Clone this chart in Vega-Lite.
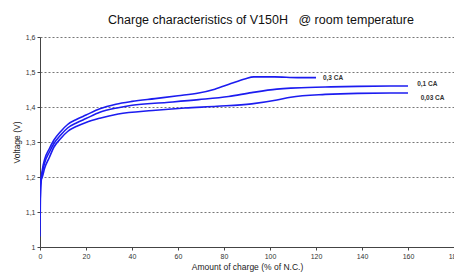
{
  "$schema": "https://vega.github.io/schema/vega-lite/v6.json",
  "width": 414,
  "height": 210,
  "autosize": {"type": "none"},
  "padding": {"left": 40, "top": 37, "right": 0, "bottom": 26},
  "background": "white",
  "title": {"text": "Charge characteristics of V150H \u00a0\u00a0@ room temperature", "fontSize": 12.5, "font": "Liberation Sans", "fontWeight": "normal", "color": "#111", "anchor": "middle", "dx": 14, "offset": 7},
  "config": {"view": {"stroke": null}},
  "datasets": {
    "curves": [
      {"s": "0,3 CA", "x": 0, "v": 1.03}, {"s": "0,3 CA", "x": 0.3, "v": 1.18}, {"s": "0,3 CA", "x": 1, "v": 1.22}, {"s": "0,3 CA", "x": 2, "v": 1.25}, {"s": "0,3 CA", "x": 4, "v": 1.28}, {"s": "0,3 CA", "x": 6, "v": 1.305}, {"s": "0,3 CA", "x": 9, "v": 1.33}, {"s": "0,3 CA", "x": 12, "v": 1.35}, {"s": "0,3 CA", "x": 16, "v": 1.365}, {"s": "0,3 CA", "x": 20, "v": 1.377}, {"s": "0,3 CA", "x": 26, "v": 1.395}, {"s": "0,3 CA", "x": 33, "v": 1.408}, {"s": "0,3 CA", "x": 40, "v": 1.416}, {"s": "0,3 CA", "x": 50, "v": 1.424}, {"s": "0,3 CA", "x": 60, "v": 1.432}, {"s": "0,3 CA", "x": 69, "v": 1.44}, {"s": "0,3 CA", "x": 76, "v": 1.451}, {"s": "0,3 CA", "x": 83, "v": 1.467}, {"s": "0,3 CA", "x": 89, "v": 1.48}, {"s": "0,3 CA", "x": 93, "v": 1.486}, {"s": "0,3 CA", "x": 102, "v": 1.486}, {"s": "0,3 CA", "x": 112, "v": 1.484}, {"s": "0,3 CA", "x": 120, "v": 1.484},
      {"s": "0,1 CA", "x": 0, "v": 1.12}, {"s": "0,1 CA", "x": 0.3, "v": 1.17}, {"s": "0,1 CA", "x": 1, "v": 1.21}, {"s": "0,1 CA", "x": 2, "v": 1.24}, {"s": "0,1 CA", "x": 4, "v": 1.27}, {"s": "0,1 CA", "x": 6, "v": 1.295}, {"s": "0,1 CA", "x": 9, "v": 1.32}, {"s": "0,1 CA", "x": 12, "v": 1.34}, {"s": "0,1 CA", "x": 16, "v": 1.355}, {"s": "0,1 CA", "x": 20, "v": 1.367}, {"s": "0,1 CA", "x": 26, "v": 1.385}, {"s": "0,1 CA", "x": 34, "v": 1.398}, {"s": "0,1 CA", "x": 40, "v": 1.405}, {"s": "0,1 CA", "x": 55, "v": 1.413}, {"s": "0,1 CA", "x": 69, "v": 1.421}, {"s": "0,1 CA", "x": 82, "v": 1.43}, {"s": "0,1 CA", "x": 92, "v": 1.441}, {"s": "0,1 CA", "x": 103, "v": 1.451}, {"s": "0,1 CA", "x": 109, "v": 1.454}, {"s": "0,1 CA", "x": 124, "v": 1.457}, {"s": "0,1 CA", "x": 138, "v": 1.459}, {"s": "0,1 CA", "x": 160, "v": 1.46},
      {"s": "0,03 CA", "x": 0, "v": 1.17}, {"s": "0,03 CA", "x": 0.3, "v": 1.19}, {"s": "0,03 CA", "x": 1, "v": 1.2}, {"s": "0,03 CA", "x": 2, "v": 1.225}, {"s": "0,03 CA", "x": 4, "v": 1.255}, {"s": "0,03 CA", "x": 6, "v": 1.285}, {"s": "0,03 CA", "x": 9, "v": 1.31}, {"s": "0,03 CA", "x": 12, "v": 1.33}, {"s": "0,03 CA", "x": 16, "v": 1.345}, {"s": "0,03 CA", "x": 20, "v": 1.356}, {"s": "0,03 CA", "x": 26, "v": 1.368}, {"s": "0,03 CA", "x": 34, "v": 1.38}, {"s": "0,03 CA", "x": 49, "v": 1.39}, {"s": "0,03 CA", "x": 63, "v": 1.397}, {"s": "0,03 CA", "x": 77, "v": 1.402}, {"s": "0,03 CA", "x": 92, "v": 1.409}, {"s": "0,03 CA", "x": 103, "v": 1.42}, {"s": "0,03 CA", "x": 109, "v": 1.428}, {"s": "0,03 CA", "x": 124, "v": 1.436}, {"s": "0,03 CA", "x": 138, "v": 1.439}, {"s": "0,03 CA", "x": 160, "v": 1.44}
    ],
    "labels": [
      {"label": "0,3 CA", "x": 123, "v": 1.484},
      {"label": "0,1 CA", "x": 164, "v": 1.467},
      {"label": "0,03 CA", "x": 165.5, "v": 1.427}
    ]
  },
  "layer": [
    {
      "data": {"name": "curves"},
      "mark": {"type": "line", "color": "#1c1cf0", "strokeWidth": 1.6, "clip": true, "interpolate": "monotone"},
      "encoding": {
        "x": {"field": "x", "type": "quantitative", "scale": {"domain": [0, 180], "nice": false},
          "axis": {"values": [0, 20, 40, 60, 80, 100, 120, 140, 160, 180], "labelOverlap": false, "title": "Amount of charge (% of  N.C.)", "titleFont": "Liberation Sans", "titleFontSize": 8.5, "titleFontWeight": "normal", "titleColor": "#222", "titlePadding": 3, "labelFont": "Liberation Sans", "labelFontSize": 7, "labelColor": "#333", "labelPadding": 2, "grid": false, "domainColor": "#444", "tickColor": "#444", "tickSize": 3, "labelFlush": false}},
        "y": {"field": "v", "type": "quantitative", "scale": {"domain": [1, 1.6], "nice": false, "zero": false},
          "axis": {"values": [1, 1.1, 1.2, 1.3, 1.4, 1.5, 1.6], "labelOverlap": false, "format": ".2~f", "labelExpr": "replace(datum.label, '.', ',')", "title": "Voltage (V)", "titleFont": "Liberation Sans", "titleFontSize": 8.5, "titleFontWeight": "normal", "titleColor": "#222", "titlePadding": 4, "labelFont": "Liberation Sans", "labelFontSize": 7, "labelColor": "#333", "labelPadding": 2, "grid": true, "gridColor": "#777", "gridDash": [2, 2], "gridWidth": 1, "domainColor": "#444", "tickColor": "#444", "tickSize": 3}},
        "detail": {"field": "s"}
      }
    },
    {
      "data": {"name": "labels"},
      "mark": {"type": "text", "align": "left", "baseline": "middle", "fontSize": 6.5, "fontWeight": "bold", "font": "Liberation Sans", "color": "#333"},
      "encoding": {
        "x": {"field": "x", "type": "quantitative",
          "axis": {"values": [0, 20, 40, 60, 80, 100, 120, 140, 160, 180], "labelOverlap": false, "title": "Amount of charge (% of  N.C.)", "titleFont": "Liberation Sans", "titleFontSize": 8.5, "titleFontWeight": "normal", "titleColor": "#222", "titlePadding": 3, "labelFont": "Liberation Sans", "labelFontSize": 7, "labelColor": "#333", "labelPadding": 2, "grid": false, "domainColor": "#444", "tickColor": "#444", "tickSize": 3, "labelFlush": false}},
        "y": {"field": "v", "type": "quantitative",
          "axis": {"values": [1, 1.1, 1.2, 1.3, 1.4, 1.5, 1.6], "labelOverlap": false, "format": ".2~f", "labelExpr": "replace(datum.label, '.', ',')", "title": "Voltage (V)", "titleFont": "Liberation Sans", "titleFontSize": 8.5, "titleFontWeight": "normal", "titleColor": "#222", "titlePadding": 4, "labelFont": "Liberation Sans", "labelFontSize": 7, "labelColor": "#333", "labelPadding": 2, "grid": true, "gridColor": "#777", "gridDash": [2, 2], "gridWidth": 1, "domainColor": "#444", "tickColor": "#444", "tickSize": 3}},
        "text": {"field": "label"}
      }
    }
  ]
}
